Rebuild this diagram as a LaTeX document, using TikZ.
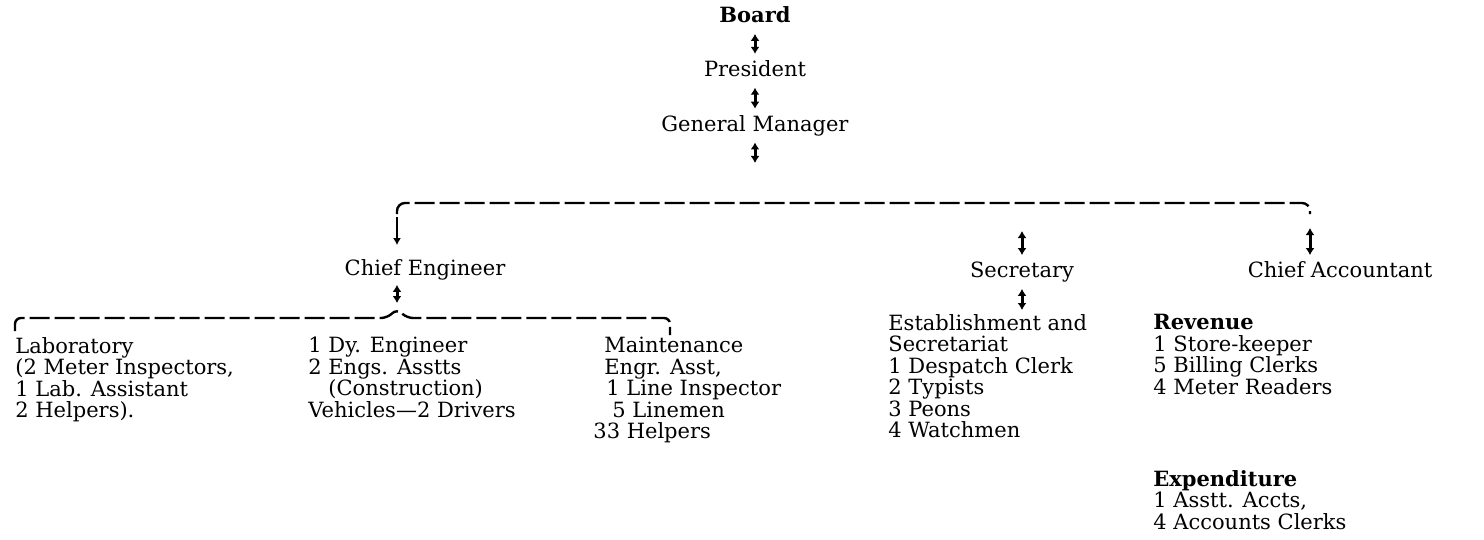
\documentclass[tikz,border=0pt]{standalone}
\usepackage{fontspec}
\setmainfont{DejaVu Serif}
\usetikzlibrary{arrows.meta,positioning}

\begin{document}
\begin{tikzpicture}[
    x=0.5pt, y=-0.5pt,
    post/.style={
        font=\fontsize{10.5}{10.75}\selectfont,
        text height=8pt,
        text depth=2.5pt,
        inner sep=1pt
    },
    staff/.style={
        font=\fontsize{10.5}{10.75}\selectfont,
        anchor=north west,
        align=left,
        inner sep=0pt
    },
    link/.style={
        {Latex[length=3.5pt,width=4.5pt]}-{Latex[length=3.5pt,width=4.5pt]},
        line width=1.5pt,
        shorten <=2pt, shorten >=2pt
    },
    feed/.style={
        -{Latex[length=3.5pt,width=4pt]},
        line width=0.9pt
    },
    bus/.style={
        dash pattern=on 10pt off 2.5pt,
        line width=1.2pt,
        rounded corners=4pt
    },
    node distance=14pt
]
    \useasboundingbox (0,0) rectangle (1484,540);

    % Top of the chain
    \node[post, font=\fontsize{10.5}{10.75}\selectfont\bfseries] (board) at (755,17) {Board};
    \node[post, below=of board] (president) {President};
    \node[post, below=14.5pt of president] (manager) {General Manager};
    \coordinate (managerfoot) at (755,167);

    \draw[link] (board) -- (president);
    \draw[link] (president) -- (manager);
    \draw[link] (manager) -- (managerfoot);

    % Second level
    \node[post] (engineer) at (425,270) {Chief Engineer};
    \node[post] (secretary) at (1022,272) {Secretary};
    \node[post] (accountant) at (1340,272) {Chief Accountant};

    \coordinate (engineertop) at (397,214);
    \coordinate (accountanttop) at (1310,214);
    \coordinate (secretarytop) at (1022,227);
    \coordinate (busline) at (0,203);

    % Dashed line under the General Manager
    \draw[bus] (engineertop) |- (accountanttop |- busline) -- (accountanttop);

    \draw[feed, shorten <=1.5pt, shorten >=6pt] (engineertop) -- (engineertop |- engineer.north);
    \draw[link] (secretarytop) -- (secretary.north);
    \draw[link, shorten <=7pt] (accountanttop) -- (accountanttop |- accountant.north);

    % Staff of the Chief Engineer
    \node[staff] (laboratory) at (15,337) {Laboratory\\(2 Meter Inspectors,\\1 Lab. Assistant\\2 Helpers).};
    \node[staff] (deputy) at (308,337) {1 Dy. Engineer\\2 Engs. Asstts\\\hspace*{10pt}(Construction)\\Vehicles---2 Drivers};
    \node[staff] (maintenance) at (593,337) {\hspace*{5.5pt}Maintenance\\\hspace*{5.5pt}Engr. Asst,\\\hspace*{6.5pt}1 Line Inspector\\\hspace*{9.5pt}5 Linemen\\33 Helpers};

    \coordinate (bracetip) at (397,309);
    \coordinate (braceleft) at (15,331);
    \coordinate (braceright) at (670,335);
    \draw[bus, rounded corners=3pt] (braceleft) |- (387,318) -- (bracetip) -- (407,318) -| (braceright);
    \draw[link, shorten <=1pt, shorten >=3pt] (engineertop |- engineer.south) -- (bracetip);

    % Staff of the Secretary
    \node[staff] (establishment) at (888,314) {Establishment and\\Secretariat\\1 Despatch Clerk\\2 Typists\\3 Peons\\4 Watchmen};
    \draw[link] (secretary.south) -- (secretary.south |- establishment.north);

    % Staff of the Chief Accountant
    \node[staff] (revenue) at (1153,314) {\textbf{Revenue}\\1 Store-keeper\\5 Billing Clerks\\4 Meter Readers};
    \node[staff] (expenditure) at (1153,470) {\textbf{Expenditure}\\1 Asstt. Accts,\\4 Accounts Clerks};

\end{tikzpicture}
\end{document}
